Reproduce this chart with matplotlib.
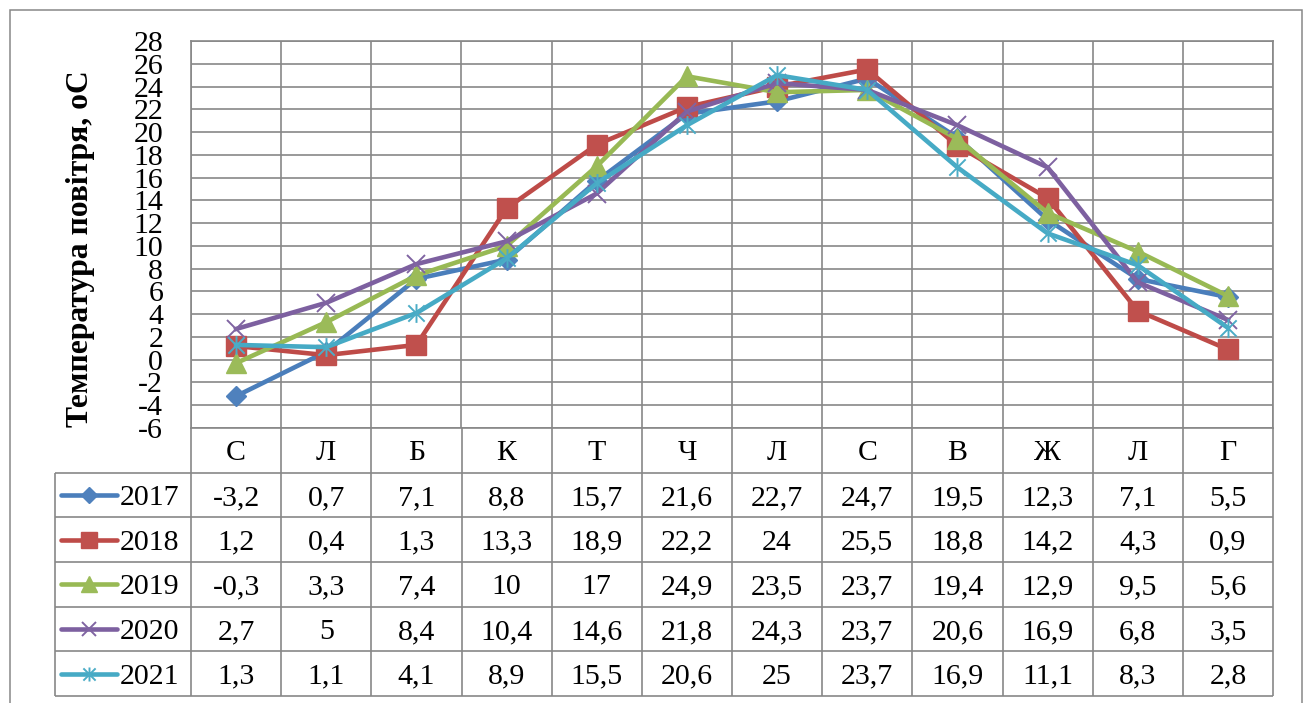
import numpy as np
import matplotlib.pyplot as plt
from matplotlib.path import Path
from matplotlib.patches import Rectangle

plt.rcParams['font.family'] = ['Liberation Serif', 'DejaVu Serif']
plt.rcParams['axes.unicode_minus'] = False

# Monthly mean air temperature, Jan..Dec
months = ['С', 'Л', 'Б', 'К', 'Т', 'Ч', 'Л', 'С', 'В', 'Ж', 'Л', 'Г']
years = ['2017', '2018', '2019', '2020', '2021']
t2017 = [-3.2, 0.7, 7.1, 8.8, 15.7, 21.6, 22.7, 24.7, 19.5, 12.3, 7.1, 5.5]
t2018 = [1.2, 0.4, 1.3, 13.3, 18.9, 22.2, 24, 25.5, 18.8, 14.2, 4.3, 0.9]
t2019 = [-0.3, 3.3, 7.4, 10, 17, 24.9, 23.5, 23.7, 19.4, 12.9, 9.5, 5.6]
t2020 = [2.7, 5, 8.4, 10.4, 14.6, 21.8, 24.3, 23.7, 20.6, 16.9, 6.8, 3.5]
t2021 = [1.3, 1.1, 4.1, 8.9, 15.5, 20.6, 25, 23.7, 16.9, 11.1, 8.3, 2.8]
series = [t2017, t2018, t2019, t2020, t2021]

# office-style palette: line colour, marker colour
line_cols = ['#4A7EBB', '#BE4B48', '#98B954', '#7D60A0', '#46AAC5']
mark_cols = ['#4F81BD', '#C0504D', '#9BBB59', '#8064A2', '#4BACC6']

# asterisk marker: an X with a vertical bar through it
star = Path([(-1, -1), (1, 1), (-1, 1), (1, -1), (0, -1.15), (0, 1.15)],
            [Path.MOVETO, Path.LINETO, Path.MOVETO, Path.LINETO,
             Path.MOVETO, Path.LINETO])
markers = [dict(marker='D', ms=10.5), dict(marker='s', ms=14.5),
           dict(marker='^', ms=15), dict(marker='x', ms=13.5, mew=1.4),
           dict(marker=star, ms=13.5, mew=1.4)]

W, H = 1306, 703
GRID = '#878787'
FS = 21.5


def fx(px):
    return px / W


def fy(py):
    return 1 - py / H


fig = plt.figure(figsize=(W / 100, H / 100), dpi=100)

# outer chart border
fig.patches.append(Rectangle((fx(10), -0.2), fx(1302) - fx(10), fy(10) + 0.2,
                             transform=fig.transFigure, fill=False,
                             edgecolor=GRID, lw=1.1))

left, right, top, bottom = 191, 1273, 41, 428
ax = fig.add_axes([fx(left), fy(bottom), fx(right) - fx(left), fy(top) - fy(bottom)])
x = np.arange(len(months))
for vals, lc, mc, mk in zip(series, line_cols, mark_cols, markers):
    ax.plot(x, vals, color=lc, lw=3.3, mfc=mc, mec=mc, clip_on=False,
            solid_joinstyle='round', **mk)

ax.set_xlim(-0.5, 11.5)
ax.set_ylim(-6, 28)
ax.set_yticks(np.arange(-6, 29, 2))
ax.set_xticks(np.arange(-0.5, 12, 1))
ax.set_xticklabels([])
ax.tick_params(length=0, labelsize=FS, pad=20)
ax.grid(color=GRID, lw=1.2)
ax.set_axisbelow(True)
for s in ax.spines.values():
    s.set_color(GRID)
    s.set_linewidth(1.2)

fig.text(fx(81), fy(249), 'Температура повітря, оС', rotation=90,
         ha='center', va='center', fontsize=22.8, fontweight='bold')

# data table under the plot, sharing the category columns
tleft, tbottom = 55, 696
col_w = (right - left) / len(months)
xl = -0.5 - (left - tleft) / col_w
tax = fig.add_axes([fx(tleft), fy(tbottom), fx(right) - fx(tleft), fy(bottom) - fy(tbottom)])
tax.set_xlim(xl, 11.5)
tax.set_ylim(6, 0)
tax.axis('off')

tax.hlines(np.arange(1, 7), xl, 11.5, color=GRID, lw=1.2, clip_on=False)
tax.vlines(np.arange(-0.5, 12, 1), 0, 6, color=GRID, lw=1.2, clip_on=False)
tax.vlines(xl, 1, 6, color=GRID, lw=1.2, clip_on=False)

for i, m in enumerate(months):
    tax.text(i, 0.5, m, ha='center', va='center_baseline', fontsize=FS)

for r, (yr, vals, lc, mc, mk) in enumerate(zip(years, series, line_cols, mark_cols, markers)):
    yrow = r + 1.5
    for i, v in enumerate(vals):
        tax.text(i, yrow, f'{v:g}'.replace('.', ','), ha='center',
                 va='center_baseline', fontsize=FS)
    # legend key: short line with the series marker
    x0 = xl + 6 / col_w
    x1 = xl + 62 / col_w
    kw = dict(mk)
    kw['ms'] = kw['ms'] * 0.75
    tax.plot([x0, x1], [yrow, yrow], color=lc, lw=3.3, solid_capstyle='round',
             clip_on=False)
    tax.plot([(x0 + x1) / 2], [yrow], color=lc, mfc=mc, mec=mc, ls='none',
             clip_on=False, **kw)
    tax.text(xl + 65 / col_w, yrow, yr, ha='left', va='center_baseline', fontsize=FS)

fig.savefig('out.png', dpi=100)
